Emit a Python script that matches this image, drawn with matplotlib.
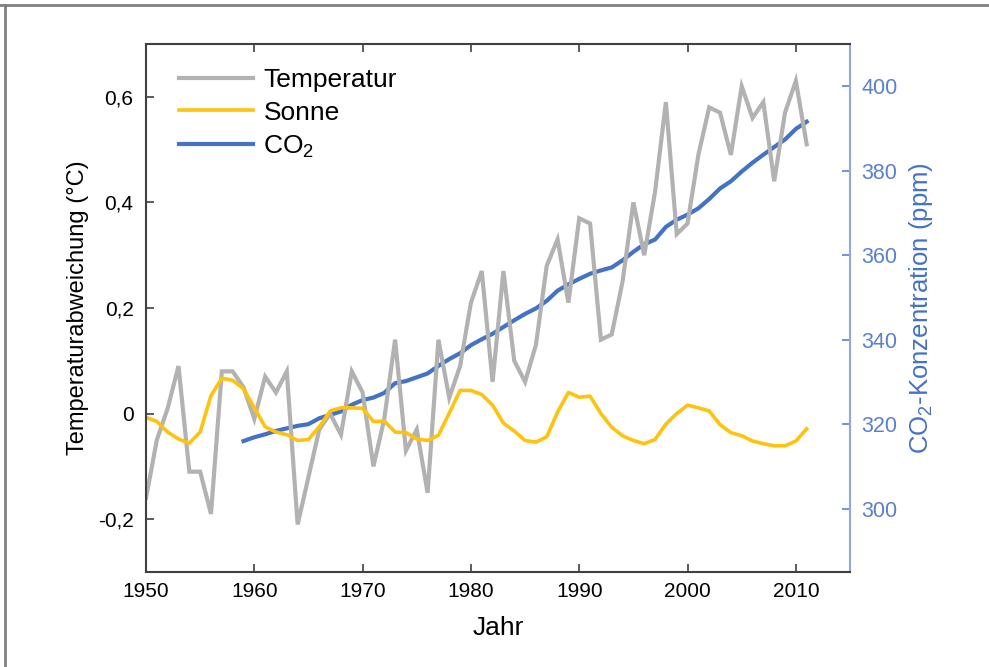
import matplotlib
matplotlib.use("Agg")
import matplotlib.pyplot as plt
from matplotlib.lines import Line2D
from matplotlib.ticker import FuncFormatter
import numpy as np

plt.rcParams['font.family'] = ['Liberation Sans', 'DejaVu Sans']
plt.rcParams['mathtext.fontset'] = 'custom'
plt.rcParams['mathtext.rm'] = 'Liberation Sans'
plt.rcParams['mathtext.it'] = 'Liberation Sans'

# Temperaturabweichung (°C), 1950-2011
temp_years = list(range(1950, 2012))
temp = [-0.16, -0.05, 0.01, 0.09, -0.11, -0.11, -0.19, 0.08, 0.08, 0.05,
        -0.01, 0.07, 0.04, 0.08, -0.21, -0.12, -0.03, 0.00, -0.04, 0.08,
        0.04, -0.10, -0.01, 0.14, -0.07, -0.03, -0.15, 0.14, 0.03, 0.09,
        0.21, 0.27, 0.06, 0.27, 0.10, 0.06, 0.13, 0.28, 0.33, 0.21,
        0.37, 0.36, 0.14, 0.15, 0.25, 0.40, 0.30, 0.42, 0.59, 0.34,
        0.36, 0.49, 0.58, 0.57, 0.49, 0.62, 0.56, 0.59, 0.44, 0.57,
        0.63, 0.51]

# Sonne (skaliert auf linke Achse), 1950-2011
sun = [-0.007, -0.015, -0.035, -0.048, -0.056, -0.035, 0.034, 0.067, 0.063, 0.047,
       0.011, -0.025, -0.035, -0.040, -0.051, -0.049, -0.025, 0.005, 0.011, 0.011,
       0.010, -0.015, -0.014, -0.035, -0.036, -0.048, -0.051, -0.041, 0.001, 0.044,
       0.044, 0.036, 0.016, -0.018, -0.033, -0.051, -0.054, -0.044, 0.003, 0.040,
       0.031, 0.033, 0.000, -0.026, -0.042, -0.051, -0.057, -0.049, -0.020, 0.000,
       0.016, 0.011, 0.005, -0.021, -0.036, -0.042, -0.052, -0.057, -0.061, -0.061,
       -0.052, -0.029]

# CO2-Konzentration (ppm), 1959-2011
co2_years = list(range(1959, 2012))
co2 = [316.0, 316.9, 317.6, 318.4, 319.0, 319.6, 320.0, 321.4, 322.2, 323.0,
       324.6, 325.7, 326.3, 327.4, 329.7, 330.2, 331.1, 332.0, 333.8, 335.4,
       336.8, 338.7, 340.1, 341.4, 343.0, 344.6, 346.1, 347.4, 349.2, 351.6,
       353.1, 354.4, 355.6, 356.4, 357.1, 358.8, 360.8, 362.6, 363.7, 366.7,
       368.4, 369.6, 371.1, 373.3, 375.8, 377.5, 379.8, 381.9, 383.8, 385.6,
       387.4, 389.9, 391.6]

gray = '#b2b2b2'
yellow = '#ffc20e'
blue = '#4472c4'
blue_axis = '#5b80cc'
spine_dark = '#404040'

fig = plt.figure(figsize=(9.89, 6.67), dpi=100)
ax = fig.add_axes([146 / 989, 1 - 572 / 667, (850 - 146) / 989, (572 - 44) / 667])
ax2 = ax.twinx()

l1, = ax.plot(temp_years, temp, color=gray, lw=3, label='Temperatur', solid_joinstyle='miter')
l2, = ax.plot(temp_years, sun, color=yellow, lw=2.6, label='Sonne')
l3, = ax2.plot(co2_years, co2, color=blue, lw=3, label='CO$_2$')

ax.set_xlim(1950, 2015)
ax.set_ylim(-0.3, 0.7)
ax2.set_ylim(285, 410)

ax.set_xticks(range(1950, 2011, 10))
ax.set_yticks([-0.2, 0, 0.2, 0.4, 0.6])
ax2.set_yticks(range(300, 401, 20))


def comma(v, pos):
    if abs(v) < 1e-9:
        return '0'
    return ('%.1f' % v).replace('.', ',')


ax.yaxis.set_major_formatter(FuncFormatter(comma))

ax.tick_params(axis='x', direction='in', top=True, length=6, width=1.2,
               color=spine_dark, labelsize=15, pad=7)
ax.tick_params(axis='y', direction='in', length=6, width=1.2,
               color=spine_dark, labelsize=15, pad=9)
ax2.tick_params(axis='y', direction='in', length=6, width=1.2,
                color=blue_axis, labelcolor=blue_axis, labelsize=15.5, pad=8)

for s in ['left', 'bottom', 'top']:
    ax.spines[s].set_color(spine_dark)
    ax.spines[s].set_linewidth(1.5)
ax2.spines['right'].set_color('#8eaadb')
ax2.spines['right'].set_linewidth(1.5)
ax2.spines['left'].set_visible(False)
ax2.spines['top'].set_visible(False)
ax2.spines['bottom'].set_visible(False)
ax.spines['right'].set_visible(False)

ax.set_xlabel('Jahr', fontsize=19, labelpad=11)
ax.set_ylabel('Temperaturabweichung (°C)', fontsize=17, labelpad=6)
ax2.set_ylabel('CO$_2$-Konzentration (ppm)', fontsize=18.5, color=blue, labelpad=7)

leg = ax.legend(handles=[l1, l2, l3], loc='upper left', frameon=False, fontsize=19,
                handlelength=2.8, handletextpad=0.38, labelspacing=0.34,
                bbox_to_anchor=(0.025, 0.985), borderaxespad=0.2)
ax.set_zorder(ax2.get_zorder() + 1)
ax.patch.set_visible(False)

# Rahmen oben und links
fig.add_artist(Line2D([0, 1], [1 - 5 / 667, 1 - 5 / 667], transform=fig.transFigure,
                      color='#808080', lw=2))
fig.add_artist(Line2D([5 / 989, 5 / 989], [0, 1 - 5 / 667], transform=fig.transFigure,
                      color='#808080', lw=2))

fig.savefig('out.png', dpi=100)
